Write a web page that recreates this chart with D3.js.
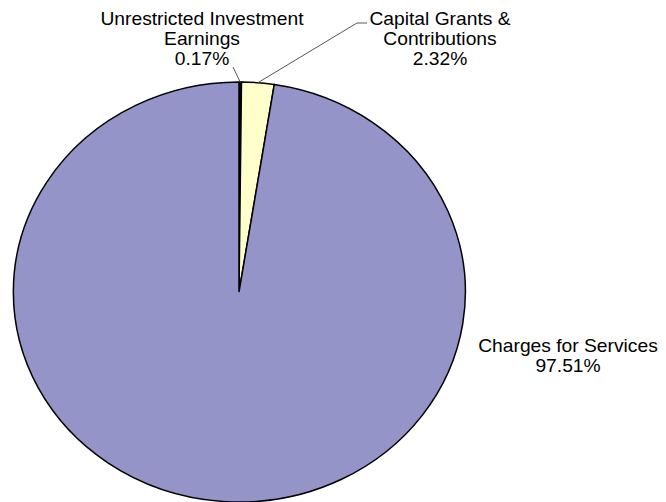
<!DOCTYPE html>
<html>
<head>
<meta charset="utf-8">
<script src="https://cdn.jsdelivr.net/npm/d3@7"></script>
<style>
  body { margin: 0; background: #fff; }
  svg { display: block; }
  text { font-family: "Liberation Sans", Arial, sans-serif; font-size: 17.5px; fill: #000; }
</style>
</head>
<body>
<svg id="chart" width="666" height="502"></svg>
<script>
// data
const categories = ['Unrestricted Investment Earnings', 'Capital Grants & Contributions', 'Charges for Services'];
const shares = [0.17, 2.32, 97.51];
const colors = ['#111111', '#FFFFCC', '#9494C8'];
// label lines as shown
const labelLines = [
  ['Unrestricted Investment', 'Earnings', '0.17%'],
  ['Capital Grants &', 'Contributions', '2.32%'],
  ['Charges for Services', '97.51%']
];

const svg = d3.select('#chart');
const cx = 239, cy = 292, rx = 226, ry = 210;

const pie = d3.pie().sort(null).value(d => d)(shares);
const arc = d3.arc().innerRadius(0).outerRadius(1);

// unit pie, stretched into an ellipse
const g = svg.append('g')
  .attr('transform', `translate(${cx},${cy}) scale(${rx},${ry})`);

g.selectAll('path')
  .data(pie)
  .join('path')
  .attr('d', arc)
  .attr('fill', (d, i) => colors[i])
  .attr('stroke', '#000')
  .attr('stroke-width', 1.5)
  .attr('vector-effect', 'non-scaling-stroke');

// point on the ellipse edge at a slice's middle angle
function edge(d) {
  const a = (d.startAngle + d.endAngle) / 2;
  return [cx + rx * Math.sin(a), cy - ry * Math.cos(a)];
}

// label anchors (centre x, first baseline) and leader elbows
const labelPos = [
  { x: 202, y: 24.5, lead: [[233, 67]] },
  { x: 440, y: 24.5, lead: [[367, 23], [357, 23]] },
  { x: 568, y: 352, lead: null }
];

labelPos.forEach((p, i) => {
  if (p.lead) {
    const pts = p.lead.concat([edge(pie[i])]);
    svg.append('path')
      .attr('d', d3.line()(pts))
      .attr('fill', 'none')
      .attr('stroke', '#555')
      .attr('stroke-width', 1);
  }
  // text in the source is a little wider than it is tall
  const t = svg.append('g')
    .attr('transform', `translate(${p.x},${p.y}) scale(1.1,1)`)
    .append('text')
    .attr('text-anchor', 'middle');
  labelLines[i].forEach((line, j) => {
    t.append('tspan')
      .attr('x', 0)
      .attr('dy', j === 0 ? 0 : 20.5)
      .text(line);
  });
});
</script>
</body>
</html>
